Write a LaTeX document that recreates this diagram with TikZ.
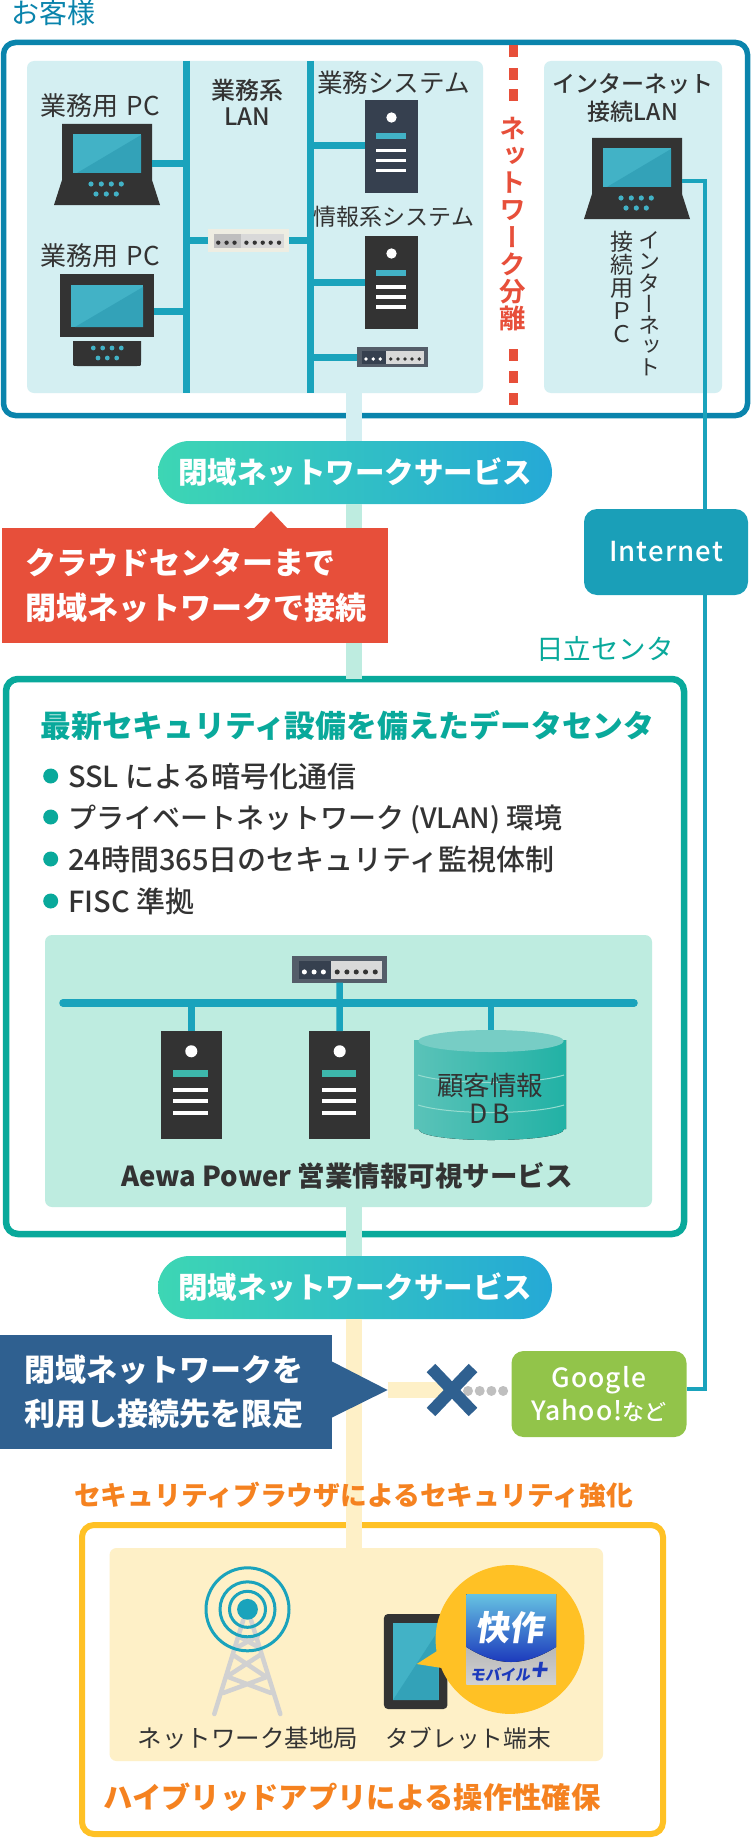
\documentclass[tikz,border=0pt]{standalone}
\usepackage{fontspec}
\setmainfont{Noto Sans CJK JP}
\newfontfamily\jpmedium{Noto Sans CJK JP Medium}
\newfontfamily\jpvert[RawFeature=+vert]{Noto Sans CJK JP}
\newfontfamily\jpvertbold[RawFeature=+vert]{Noto Sans CJK JP Bold}
\newfontfamily\jpspaced[LetterSpace=4]{Noto Sans CJK JP Medium}
\newcommand{\jpsize}[2]{\fontsize{#1}{#2}\selectfont}
\definecolor{custBlue}{HTML}{0A84AC}
\definecolor{lanBlue}{HTML}{1AA3BC}
\definecolor{paleBlue}{HTML}{D4EFF2}
\definecolor{paleMint}{HTML}{BEECE0}
\definecolor{paleCream}{HTML}{FEF0C7}
\definecolor{dcGreen}{HTML}{09A99B}
\definecolor{noteRed}{HTML}{E74F3A}
\definecolor{noteBlue}{HTML}{2F6090}
\definecolor{sunYellow}{HTML}{FFC125}
\definecolor{labelOrange}{HTML}{F58220}
\definecolor{leafGreen}{HTML}{92C44A}
\definecolor{netBlue}{HTML}{1A9FB8}
\definecolor{iconDark}{HTML}{333333}
\definecolor{iconNavy}{HTML}{36404F}
\definecolor{screenLight}{HTML}{42B2C6}
\definecolor{screenDark}{HTML}{33A2B8}
\definecolor{mintBar}{HTML}{3DB8AC}
\definecolor{pillLeft}{HTML}{3DD6B4}
\definecolor{pillRight}{HTML}{25A9D6}
\usetikzlibrary{shapes.misc}
\tikzset{
  size/.style 2 args={minimum width=#1, minimum height=#2},
  framebox/.style={draw=#1, line width=5.5pt, rounded corners=12pt, fill=white},
  panel/.style={fill=#1, rounded corners=7pt},
  pillbox/.style={rounded rectangle, size={394}{63}, left color=pillLeft, right color=pillRight, text=white, font=\bfseries\jpsize{29.5}{32}},
  notebox/.style={fill=#1, text=white, align=left, font=\bfseries\jpsize{31}{44.5}},
  lanbus/.style={draw=lanBlue, line width=7pt},
  trunk/.style={draw=#1, line width=16pt},
  lbl/.style={text=iconDark, font=\jpsize{#1}{#1}},
  pics/laptopicon/.style={code={
    \fill[iconDark] (0,0) -- (90,0) -- (90,56) -- (98,81) -- (-8,81) -- (0,56) -- cycle;
    \fill[screenLight] (11,10) rectangle (79,49);
    \fill[screenDark] (15,49) -- (79,11) -- (79,49) -- cycle;
    \foreach \dotx in {29,39.3,49.3,59.3} \fill[screenLight] (\dotx,60) circle (2.6);
    \foreach \dotx in {34,44.3,54.3} \fill[screenLight] (\dotx,70) circle (2.6);
    \coordinate (-port) at (90,40);
  }},
  pics/pcicon/.style={code={
    \fill[iconDark] (0,0) rectangle (94,63);
    \fill[screenLight] (11,11) rectangle (83,53);
    \fill[screenDark] (15,53) -- (83,13) -- (83,53) -- cycle;
    \fill[iconDark] (13,67) -- (81,67) -- (81,88) .. controls (81,92) .. (77,92) -- (17,92) .. controls (13,92) .. (13,88) -- cycle;
    \foreach \dotx in {33.3,42.7,52,61.3} \fill[screenLight] (\dotx,74) circle (2.4);
    \foreach \dotx in {38,47.3,56.7} \fill[screenLight] (\dotx,84) circle (2.4);
    \coordinate (-port) at (94,37);
  }},
  pics/servericon/.style 2 args={code={
    \fill[#1] (0,0) rectangle (53,93);
    \fill[white] (26.5,17.5) circle (5.2);
    \fill[#2] (11,33.5) rectangle (41,39.5);
    \foreach \bary in {49,59,69} \fill[white] (11,\bary) rectangle (41,\bary+3.5);
    \coordinate (-west) at (0,46);
    \coordinate (-top) at (26.5,0);
  }},
  pics/switchicon/.style n args={5}{code={
    \fill[#1] (0,0) rectangle (71,20);
    \fill[#2] (5,4) rectangle (29,17);
    \fill[#3] (29,4) rectangle (67,17);
    \foreach \dotx in {9,16.3,23.3} \fill[#4] (\dotx,12) circle (1.9);
    \foreach \dotx in {33.7,41,48,55,62.3} \fill[#5] (\dotx,12) circle (1.9);
    \coordinate (-west) at (0,10);
    \coordinate (-east) at (71,10);
    \coordinate (-south) at (35.5,20);
  }},
}
\begin{document}
\begin{tikzpicture}[x=1pt, y=-1pt, every node/.style={inner sep=0pt, outer sep=0pt}]
\useasboundingbox (0,0) rectangle (750,1838);

\node[lbl=28, text=custBlue, anchor=west] (custTitle) at (11,13) {お客様};
\node[framebox=custBlue, size={744}{373}] (custBox) at (375.5,229) {};
\node[panel=paleBlue, size={456}{332}] (custPanel) at (255,227) {};
\node[panel=paleBlue, size={178}{332}] (netPanel) at (633,227) {};

\node[pillbox] (pillA) at (355,472.5) {閉域ネットワークサービス};
\node[pillbox] (pillB) at (355,1287.5) {閉域ネットワークサービス};

\node[lbl=27.5, text=dcGreen] (dcTitle) at (605,649) {日立センタ};
\node[framebox=dcGreen, line width=6.5pt, size={678}{555}] (dcBox) at (345,956.5) {};
\node[panel=paleMint, size={607}{272}] (dcPanel) at (348.5,1071) {};

\node[framebox=sunYellow, line width=6pt, size={581}{309}] (appBox) at (372.5,1679.5) {};
\node[panel=paleCream, size={493.5}{213}] (appPanel) at (356.3,1654.5) {};

\coordinate (trunkX) at (354,0);
\draw[trunk=paleBlue] (trunkX |- custPanel.south) -- (trunkX |- pillA.north);
\draw[trunk=paleMint] (trunkX |- pillA.south) -- (trunkX |- dcBox.north);
\draw[trunk=paleMint] (trunkX |- dcPanel.south) -- (trunkX |- pillB.north);
\draw[trunk=paleCream] (trunkX |- pillB.south) -- (trunkX |- appPanel.north);
\node[text=labelOrange, font=\bfseries\jpsize{26.8}{27}] (appTitle) at (353.5,1495) {セキュリティブラウザによるセキュリティ強化};

\coordinate (busL) at (186.5,61);
\coordinate (busR) at (310.5,61);
\draw[lanbus] (busL) -- (busL |- custPanel.south);
\draw[lanbus] (busR) -- (busR |- custPanel.south);

\pic (lapA) at (62,124) {laptopicon};
\pic (pcB) at (60,274) {pcicon};
\pic (srvA) at (365,100) {servericon={iconNavy}{screenLight}};
\pic (srvB) at (365,236) {servericon={iconDark}{screenLight}};
\pic[scale=1.14] (swA) at (208,229) {switchicon={black!8!white!95!yellow}{black!25!white}{black!15!white}{iconDark}{iconDark}};
\pic (swB) at (357,347) {switchicon={iconNavy!85!white}{iconNavy}{black!15!white}{white}{iconDark}};
\pic (lapC) at (592,138) {laptopicon};

\draw[lanbus] (lapA-port) -- (lapA-port -| busL);
\draw[lanbus] (pcB-port) -- (pcB-port -| busL);
\draw[lanbus] (swA-west) -- (swA-west -| busL);
\draw[lanbus] (swA-east) -- (swA-east -| busR);
\draw[lanbus] (srvA-west) -- (srvA-west -| busR);
\draw[lanbus] (srvB-west) -- (srvB-west -| busR);
\draw[lanbus] (swB-west) -- (swB-west -| busR);

\node[lbl=26, anchor=west] (pcLabelA) at (40,106) {業務用 \kern3pt PC};
\node[lbl=26, anchor=west] (pcLabelB) at (40,256) {業務用 \kern3pt PC};
\node[align=center, text=iconDark, font=\jpmedium\jpsize{24}{26}] (lanLabel) at (247,102) {業務系\\LAN};
\node[lbl=25.6] (srvLabelA) at (393.5,83) {業務システム};
\node[lbl=23] (srvLabelB) at (394,217) {情報系システム};
\node[align=center, text=iconDark, font=\jpmedium\jpsize{23}{28}] (netLabel) at (633,98) {インターネット\\接続LAN};

\foreach \dashy in {45,68,89,349,371,393} \fill[noteRed] (508.7,\dashy) rectangle ++(9,12);
\node[align=center, text=noteRed, font=\jpvertbold\jpsize{26.5}{27.2}] (splitLabel) at (513,224) {ネ\\ッ\\ト\\ワ\\ー\\ク\\分\\離};
\node[align=center, text=iconDark, font=\jpvert\jpsize{22}{21.2}] (netPcA) at (649,304) {イ\\ン\\タ\\ー\\ネ\\ッ\\ト};
\node[align=center, text=iconDark, font=\jpvert\jpsize{23}{23}] (netPcB) at (621.7,287) {接\\続\\用\\Ｐ\\Ｃ};

\coordinate (netPort) at (682,181);
\coordinate (netTurn) at (705,1389);
\node[fill=leafGreen, rounded corners=12pt, size={175}{86}, align=center, text=white, font=\jpspaced\jpsize{26.5}{33}] (yahooBox) at (599,1394) {Google\\Yahoo!{\jpmedium\jpsize{22}{33}など}};
\draw[draw=lanBlue, line width=4pt] (netPort) -| (netTurn) -- (netTurn -| yahooBox.east);
\node[fill=netBlue, rounded corners=13pt, size={164}{86}, text=white, font=\jpspaced\jpsize{27.5}{30}] (netBox) at (666,552) {Internet};

\node[notebox=noteRed, size={385.5}{115}, text width=339] (cloudNote) at (194.75,585.5) {クラウドセンターまで\\閉域ネットワークで接続};
\fill[noteRed] (254,528.5) -- (271,511) -- (287.5,528.5) -- cycle;

\node[text=dcGreen, font=\bfseries\jpsize{30.8}{31}] (dcHeading) at (347.5,726) {最新セキュリティ設備を備えたデータセンタ};
\foreach \itemy/\itemtext in {776/SSL による暗号化通信, 817/{\jpsize{28}{30}プライベートネットワーク (VLAN) 環境}, 859/24時間365日のセキュリティ監視体制, 901/FISC 準拠}{
  \fill[dcGreen] (50.7,\itemy) circle (7.5);
  \node[text=iconDark, font=\jpmedium\jpsize{29}{30}, text height=25.5pt, text depth=3.5pt, anchor=west] (item\itemy) at (68,\itemy) {\itemtext};
}

\coordinate (dcBusL) at (63,1003);
\coordinate (dcBusR) at (634,1003);
\pic[scale=1.33] (swC) at (292.4,956) {switchicon={iconNavy!85!white}{iconNavy}{black!15!white}{white}{iconDark}};
\pic[scale=1.158] (srvC) at (160.6,1031) {servericon={iconDark}{mintBar}};
\pic[scale=1.158] (srvD) at (309,1031) {servericon={iconDark}{mintBar}};
\coordinate (dbTop) at (491,1031);
\draw[draw=lanBlue, line width=7.5pt, line cap=round] (dcBusL) -- (dcBusR);
\draw[draw=lanBlue, line width=6.5pt] (swC-south) -- (srvD-top);
\draw[draw=lanBlue, line width=6.5pt] (srvC-top |- dcBusL) -- (srvC-top);
\draw[draw=lanBlue, line width=6.5pt] (dbTop |- dcBusL) -- (dbTop);
\fill[left color=mintBar!85!white, right color=dcGreen!90!white] (414.5,1040) -- (566,1040) -- (566,1129) -- (564,1129) .. controls (564,1136) and (530,1140) .. (491,1140) .. controls (452,1140) and (418.6,1136) .. (418.6,1129) -- (414.5,1129) -- cycle;
\fill[mintBar!70!white] (491,1041) ellipse [x radius=72.7, y radius=11];
\draw[draw=paleMint!70!mintBar, line width=1pt] (418,1075) .. controls (450,1085) and (532,1085) .. (564,1075);
\draw[draw=paleMint!70!mintBar, line width=1pt] (418,1105) .. controls (450,1115) and (532,1115) .. (564,1105);
\node[align=center, text=iconDark, font=\jpsize{26.5}{28}] (dbLabel) at (490,1098) {顧客情報\\D\,B};
\node[text=iconDark, font=\bfseries\jpsize{27.5}{30}] (dcService) at (347,1176) {Aewa Power 営業情報可視サービス};

\coordinate (limitTip) at (387.6,1390);
\coordinate (xMark) at (452,1390);
\coordinate (dotStart) at (468,1390.7);
\draw[draw=paleCream, line width=16pt] (limitTip) -- (xMark);
\node[notebox=noteBlue, size={331.6}{114}, text width=283.6] (limitNote) at (165.8,1392) {閉域ネットワークを\\利用し接続先を限定};
\fill[noteBlue] (331,1361) -- (limitTip) -- (331,1418) -- cycle;
\draw[draw=black!25!white, line width=10pt, line cap=round, dash pattern=on 0.01pt off 11.7pt] (dotStart) -- (dotStart -| yahooBox.west);
\draw[draw=noteBlue, line width=12pt] (xMark) ++(-21,-22) -- ++(42,44) (xMark) ++(21,-22) -- ++(-42,44);

\draw[draw=black!18!white, line width=4.5pt, line cap=round] (214.3,1714) -- (243.3,1620) (280.3,1714) -- (251,1620) (223,1693) -- (266.7,1677) (271,1693) -- (228.3,1677) (229.3,1675) -- (260,1655) (233.3,1655) -- (263.3,1675) (236,1648) -- (258,1636) (238,1636) -- (260,1648);
\coordinate (towerTop) at (247.5,1609.3);
\draw[draw=lanBlue, line width=3pt] (towerTop) circle (41.5) (towerTop) circle (27.5) (towerTop) circle (18);
\fill[lanBlue] (towerTop) circle (10.4);
\node[lbl=24.5] (towerLabel) at (248,1738) {ネットワーク基地局};

\node[fill=iconDark, rounded corners=4pt, size={63.5}{95}] (tablet) at (415.7,1661.5) {};
\fill[screenLight] (393,1623) rectangle (438.6,1700);
\fill[screenDark] (393,1700) -- (438.6,1630) -- (438.6,1700) -- cycle;
\node[circle, fill=sunYellow, minimum size=148.8] (bubble) at (510,1639.5) {};
\fill[sunYellow] (416.7,1664) -- (437,1651) -- (442,1668) -- cycle;
\node[size={89.6}{90}, top color=black!42!white, bottom color=black!18!white] (appIcon) at (511.2,1639) {};
\fill[top color=pillRight!70!white, bottom color=noteBlue!60!blue] (466.4,1594) -- (556,1594) -- (556,1647) .. controls (540,1657) and (525,1662) .. (511,1662) .. controls (497,1662) and (482,1657) .. (466.4,1647) -- cycle;
\node[text=white, font=\bfseries\jpsize{34}{34}, xslant=0.15, transform shape] (appMark) at (511,1628) {快作};
\node[text=noteBlue!60!blue, font=\bfseries\jpsize{15}{16}, xslant=0.15, transform shape] (appMarkSub) at (510,1672) {モバイル{\jpsize{28}{16}+}};
\node[lbl=23.7] (tabletLabel) at (468,1738) {タブレット端末};
\node[text=labelOrange, font=\bfseries\jpsize{29.3}{31}] (appHeading) at (352,1797) {ハイブリッドアプリによる操作性確保};
\end{tikzpicture}
\end{document}
